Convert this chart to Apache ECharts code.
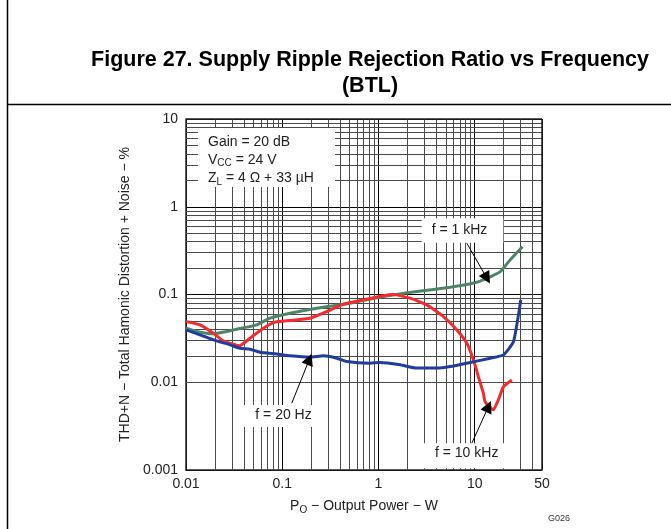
<!DOCTYPE html>
<html><head><meta charset="utf-8">
<script src="https://cdn.jsdelivr.net/npm/echarts@6/dist/echarts.min.js"></script>
<style>html,body{margin:0;padding:0;background:#fff}#c{width:671px;height:529px}</style>
</head><body><div id="c"></div>
<script>
// ---- data ----
const power1kHz = [0.01, 0.0129, 0.0192, 0.0337, 0.0543, 0.0747, 0.1205, 0.228, 0.507, 1.12, 2.50, 5.55, 9.70, 13.4, 18.4, 23.3, 31.3];
const thd1kHz   = [0.0413, 0.0378, 0.0356, 0.0402, 0.0451, 0.0537, 0.0612, 0.0698, 0.0796, 0.0946, 0.108, 0.121, 0.135, 0.153, 0.182, 0.248, 0.351];

const power10kHz = [0.01, 0.01398, 0.0192, 0.0244, 0.0358, 0.0463, 0.0636, 0.0842, 0.1205, 0.194, 0.290, 0.432, 0.697, 1.12, 1.43, 2.13, 3.18, 4.73, 6.52, 8.28, 9.70, 10.9, 12.3, 12.8, 15.6, 17.6, 19.9, 24.3];
const thd10kHz   = [0.0491, 0.0451, 0.0363, 0.0296, 0.0260, 0.0318, 0.0413, 0.0484, 0.0505, 0.0537, 0.0638, 0.0776, 0.0868, 0.097, 0.0998, 0.0908, 0.0762, 0.056, 0.0395, 0.0279, 0.018, 0.0116, 0.0075, 0.0060, 0.00485, 0.0063, 0.0089, 0.0106];

const power20Hz = [0.01, 0.01398, 0.0208, 0.0287, 0.0364, 0.0463, 0.0588, 0.0877, 0.1205, 0.194, 0.267, 0.369, 0.468, 0.818, 1.04, 1.68, 2.50, 4.04, 5.55, 8.96, 14.5, 19.9, 25.3, 30.1];
const thd20Hz   = [0.0395, 0.0347, 0.0296, 0.0267, 0.0244, 0.0238, 0.0220, 0.0210, 0.0200, 0.0193, 0.0200, 0.0188, 0.0172, 0.0165, 0.0168, 0.0158, 0.0145, 0.0145, 0.0151, 0.0168, 0.0188, 0.0205, 0.0291, 0.0868];

const xTickValues = [0.01, 0.1, 1, 10, 50];
const xTickLabels = ['0.01', '0.1', '1', '10', '50'];
const yTickValues = [0.001, 0.01, 0.1, 1, 10];
const yTickLabels = ['0.001', '0.01', '0.1', '1', '10'];

// arrow annotations: [from x, from y, to x, to y] in data units
const arrow1kHz  = [8.28, 0.384, 13.4, 0.153];
const arrow20Hz  = [0.1256, 0.00578, 0.1914, 0.0183];
const arrow10kHz = [9.33, 0.00202, 13.9, 0.00529];

// ---- helpers ----
const FONT = '"Liberation Sans", Arial, sans-serif';
const xMin = xTickValues[0], xMax = xTickValues[xTickValues.length - 1];
const yMin = yTickValues[0], yMax = yTickValues[yTickValues.length - 1];
function pairs(xs, ys) { return xs.map((x, i) => [x, ys[i]]); }
function minorGrid(from, to) {
  const out = [];
  for (let d = from; d < to * 0.999; d *= 10) {
    for (let k = 2; k <= 9; k++) { const v = +(k * d).toPrecision(3); if (v < to) out.push(v); }
  }
  return out;
}
function labelFor(values, labels, v) {
  let best = 0;
  for (let i = 0; i < values.length; i++) {
    if (Math.abs(Math.log10(values[i] / v)) < Math.abs(Math.log10(values[best] / v))) best = i;
  }
  return labels[best];
}
function arrowLine(a) {
  return {
    silent: true, z: 6, symbol: ['none', 'triangle'], symbolSize: [0, 12],
    label: { show: false }, emphasis: { disabled: true },
    lineStyle: { color: '#000', width: 1, type: 'solid' },
    data: [[{ coord: [a[0], a[1]] }, { coord: [a[2], a[3]], symbolSize: 12 }]]
  };
}
const xMinor = minorGrid(xMin, xMax);
const yMinor = minorGrid(yMin, yMax);

const chart = echarts.init(document.getElementById('c'), null, { renderer: 'canvas' });

const curveBase = { type: 'line', showSymbol: false, smooth: 0.15, z: 5, silent: true, clip: true };

chart.setOption({
  animation: false,
  textStyle: { fontFamily: FONT },
  title: {
    text: 'Figure 27. Supply Ripple Rejection Ratio vs Frequency\n(BTL)',
    left: 370, top: 47, textAlign: 'center', padding: 0,
    textStyle: { fontFamily: FONT, fontSize: 21.5, fontWeight: 'bold', color: '#000', lineHeight: 26, align: 'center' }
  },
  grid: { left: 186, right: 129, top: 119, bottom: 59, containLabel: false },
  xAxis: {
    type: 'log', logBase: 10, min: xMin, max: xMax,
    name: 'P{sub|O} − Output Power − W', nameLocation: 'middle', nameGap: 27,
    nameTextStyle: { fontFamily: FONT, fontSize: 14, color: '#222',
      rich: { sub: { fontFamily: FONT, fontSize: 10, color: '#222', padding: [8, 0, 0, 0] } } },
    axisLine: { show: true, lineStyle: { color: '#222', width: 1.5 } },
    axisTick: { show: false },
    axisLabel: { fontSize: 14, color: '#222', margin: 7, fontFamily: FONT,
      formatter: v => labelFor(xTickValues, xTickLabels, v) },
    splitLine: { show: true, lineStyle: { color: '#000', width: 1 } },
    minorSplitLine: { show: false }
  },
  yAxis: {
    type: 'log', logBase: 10, min: yMin, max: yMax,
    name: 'THD+N − Total Hamonic Distortion + Noise − %', nameLocation: 'middle', nameGap: 53,
    nameTextStyle: { fontFamily: FONT, fontSize: 14, color: '#222' },
    axisLine: { show: true, lineStyle: { color: '#222', width: 1.5 } },
    axisTick: { show: false },
    axisLabel: { fontSize: 14, color: '#222', margin: 8, fontFamily: FONT,
      formatter: v => labelFor(yTickValues, yTickLabels, v) },
    splitLine: { show: true, lineStyle: { color: '#000', width: 1 } }
  },
  series: [
    {
      type: 'line', data: [], silent: true, z: 1,
      markLine: {
        silent: true, z: 1, symbol: ['none', 'none'], label: { show: false },
        emphasis: { disabled: true }, animation: false,
        lineStyle: { color: '#4a4a4a', width: 1, type: 'solid' },
        data: xMinor.map(v => ({ xAxis: v })).concat(yMinor.map(v => ({ yAxis: v })))
      }
    },
    {
      type: 'line', data: [], silent: true, z: 2,
      markLine: {
        silent: true, z: 2, symbol: ['none', 'none'], label: { show: false },
        emphasis: { disabled: true }, animation: false,
        lineStyle: { color: '#222', width: 1.5, type: 'solid' },
        data: [{ xAxis: xMax }, { yAxis: yMax }]
      }
    },
    Object.assign({}, curveBase, { name: 'f = 1 kHz', data: pairs(power1kHz, thd1kHz),
      lineStyle: { color: '#4d8467', width: 3 }, itemStyle: { color: '#4d8467' }, markLine: arrowLine(arrow1kHz) }),
    Object.assign({}, curveBase, { name: 'f = 10 kHz', data: pairs(power10kHz, thd10kHz),
      lineStyle: { color: '#f52a2d', width: 3 }, itemStyle: { color: '#f52a2d' }, markLine: arrowLine(arrow10kHz) }),
    Object.assign({}, curveBase, { name: 'f = 20 Hz', data: pairs(power20Hz, thd20Hz),
      lineStyle: { color: '#1f3d9e', width: 3 }, itemStyle: { color: '#1f3d9e' }, markLine: arrowLine(arrow20Hz) })
  ],
  graphic: [
    // frame lines of the figure
    { type: 'line', z: 10, silent: true, shape: { x1: 7.5, y1: 0, x2: 7.5, y2: 529 }, style: { stroke: '#000', lineWidth: 1.5 } },
    { type: 'line', z: 10, silent: true, shape: { x1: 7, y1: 104.5, x2: 671, y2: 104.5 }, style: { stroke: '#000', lineWidth: 1.5 } },
    // conditions box
    { type: 'rect', z: 3, silent: true, shape: { x: 198, y: 128, width: 137, height: 59 }, style: { fill: '#fff' } },
    { type: 'text', z: 4, silent: true, x: 208, y: 141.7, style: { text: 'Gain = 20 dB', font: '14px ' + FONT, fill: '#222', verticalAlign: 'middle' } },
    { type: 'text', z: 4, silent: true, x: 208, y: 160, style: { text: 'V{sub|CC} = 24 V', font: '14px ' + FONT, fill: '#222', verticalAlign: 'middle',
        rich: { sub: { fontSize: 10, fontFamily: FONT, fill: '#222', padding: [7, 0, 0, 0] } } } },
    { type: 'text', z: 4, silent: true, x: 208, y: 178.3, style: { text: 'Z{sub|L} = 4 Ω + 33 µH', font: '14px ' + FONT, fill: '#222', verticalAlign: 'middle',
        rich: { sub: { fontSize: 10, fontFamily: FONT, fill: '#222', padding: [7, 0, 0, 0] } } } },
    // curve labels
    { type: 'rect', z: 3, silent: true, shape: { x: 421.7, y: 218.3, width: 81.6, height: 24.4 }, style: { fill: '#fff' } },
    { type: 'text', z: 4, silent: true, x: 459.5, y: 230.5, style: { text: 'f = 1 kHz', font: '14px ' + FONT, fill: '#222', align: 'center', verticalAlign: 'middle' } },
    { type: 'rect', z: 3, silent: true, shape: { x: 243.3, y: 405, width: 81.7, height: 22 }, style: { fill: '#fff' } },
    { type: 'text', z: 4, silent: true, x: 283.5, y: 415, style: { text: 'f = 20 Hz', font: '14px ' + FONT, fill: '#222', align: 'center', verticalAlign: 'middle' } },
    { type: 'rect', z: 3, silent: true, shape: { x: 423.3, y: 443.3, width: 88.4, height: 25 }, style: { fill: '#fff' } },
    { type: 'text', z: 4, silent: true, x: 466.7, y: 453.5, style: { text: 'f = 10 kHz', font: '14px ' + FONT, fill: '#222', align: 'center', verticalAlign: 'middle' } },
    // figure id
    { type: 'text', z: 4, silent: true, x: 559, y: 519, style: { text: 'G026', font: '9px ' + FONT, fill: '#333', align: 'center', verticalAlign: 'middle' } }
  ]
});
</script>
</body></html>
